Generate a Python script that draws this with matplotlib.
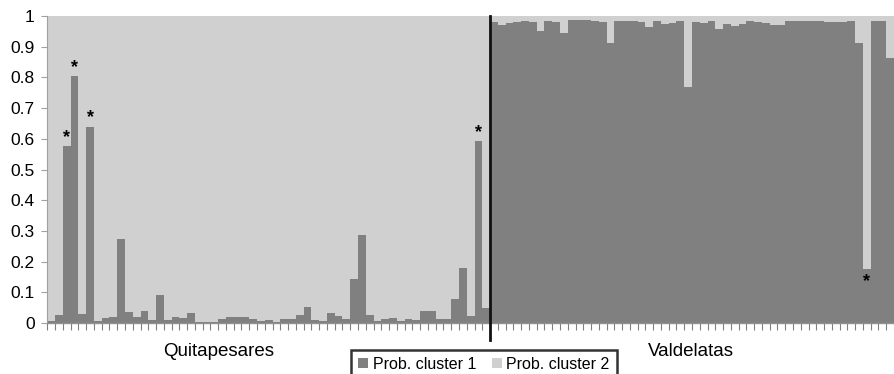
import numpy as np
import matplotlib
matplotlib.use("Agg")
import matplotlib.pyplot as plt
from matplotlib.patches import Patch
import matplotlib.transforms as mtransforms

plt.rcParams['font.family'] = ['Liberation Sans', 'DejaVu Sans']

# Population groups
groups = ["Quitapesares", "Valdelatas"]

# Probability of cluster 1 for each individual (Quitapesares: 57, Valdelatas: 52)
quitapesares_c1 = [
    0.005, 0.026, 0.577, 0.805, 0.028, 0.640, 0.005, 0.016, 0.020, 0.273,
    0.036, 0.018, 0.040, 0.010, 0.091, 0.010, 0.020, 0.016, 0.031, 0.004,
    0.004, 0.004, 0.012, 0.018, 0.018, 0.018, 0.012, 0.008, 0.011, 0.004,
    0.014, 0.014, 0.026, 0.053, 0.010, 0.005, 0.031, 0.024, 0.012, 0.142,
    0.286, 0.025, 0.005, 0.012, 0.017, 0.006, 0.013, 0.011, 0.038, 0.038,
    0.013, 0.013, 0.079, 0.180, 0.024, 0.594, 0.050,
]
valdelatas_c1 = [
    0.982, 0.971, 0.978, 0.980, 0.985, 0.980, 0.951, 0.984, 0.980, 0.946,
    0.987, 0.987, 0.986, 0.984, 0.980, 0.911, 0.985, 0.984, 0.983, 0.982,
    0.965, 0.985, 0.973, 0.978, 0.983, 0.770, 0.982, 0.976, 0.984, 0.957,
    0.973, 0.969, 0.973, 0.983, 0.980, 0.976, 0.971, 0.971, 0.983, 0.985,
    0.983, 0.985, 0.983, 0.980, 0.982, 0.980, 0.983, 0.911, 0.176, 0.983,
    0.983, 0.862,
]
prob_cluster1 = quitapesares_c1 + valdelatas_c1
prob_cluster2 = [round(1 - v, 3) for v in prob_cluster1]

# Individuals marked with an asterisk (0-based index)
starred_above = [2, 3, 5, 55]
starred_below = [105]

y_ticks = [0, 0.1, 0.2, 0.3, 0.4, 0.5, 0.6, 0.7, 0.8, 0.9, 1]
y_tick_labels = ["0", "0.1", "0.2", "0.3", "0.4", "0.5", "0.6", "0.7", "0.8", "0.9", "1"]
legend_labels = ["Prob. cluster 1", "Prob. cluster 2"]

c1_color = "#808080"
c2_color = "#cfd0cf"

n = len(prob_cluster1)
x = np.arange(n)

fig = plt.figure(figsize=(8.94, 3.74), dpi=100)
ax = fig.add_axes([47.3 / 894, 1 - 323 / 374, 1 - 47.3 / 894, (323 - 16) / 374])

ax.bar(x, prob_cluster1, width=1.0, color=c1_color, linewidth=0)
ax.bar(x, prob_cluster2, width=1.0, bottom=prob_cluster1, color=c2_color, linewidth=0)

ax.set_xlim(-0.5, n - 0.5)
ax.set_ylim(0, 1)

# divider between groups
n_left = len(quitapesares_c1)
ax.plot([n_left - 0.5, n_left - 0.5], [-0.055, 1.0], color="#111111", lw=2,
        clip_on=False, zorder=5)

for i in starred_above:
    ax.text(x[i], prob_cluster1[i] + 0.0, "*", ha="center", va="bottom",
            fontsize=13, fontweight="bold", color="black")
for i in starred_below:
    ax.text(x[i], prob_cluster1[i] - 0.07, "*", ha="center", va="bottom",
            fontsize=13, fontweight="bold", color="black")

# axes styling
for s in ["top", "right"]:
    ax.spines[s].set_visible(False)
ax.spines["left"].set_color("#a0a0a0")
ax.spines["bottom"].set_color("#909090")
ax.spines["left"].set_linewidth(0.8)
ax.spines["bottom"].set_linewidth(1.0)

ax.set_yticks(y_ticks)
ax.set_yticklabels(y_tick_labels, fontsize=12.5)
ax.tick_params(axis="y", length=4, color="#a0a0a0", pad=5)

ax.set_xticks(np.arange(-0.5, n, 1.0))
ax.set_xticklabels([])
ax.tick_params(axis="x", length=5, color="#808080", width=0.8, direction="out")

trans = mtransforms.blended_transform_factory(ax.transData, fig.transFigure)
ax.text(21.5, 1 - 352 / 374, groups[0], transform=trans, ha="center",
        va="center", fontsize=13.5)
ax.text(82.4, 1 - 352 / 374, groups[1], transform=trans, ha="center",
        va="center", fontsize=13.5)

handles = [Patch(facecolor=c1_color, edgecolor="none"),
           Patch(facecolor=c2_color, edgecolor="none")]
leg = fig.legend(handles, legend_labels, loc="lower center",
                 bbox_to_anchor=(484 / 894, -0.035), ncol=2, fontsize=11.5,
                 frameon=True, fancybox=False, handlelength=0.6,
                 handleheight=0.6, handletextpad=0.3, columnspacing=1.0,
                 borderpad=0.45)
leg.get_frame().set_edgecolor("black")
leg.get_frame().set_linewidth(1.8)

fig.savefig("out.png", dpi=100)
